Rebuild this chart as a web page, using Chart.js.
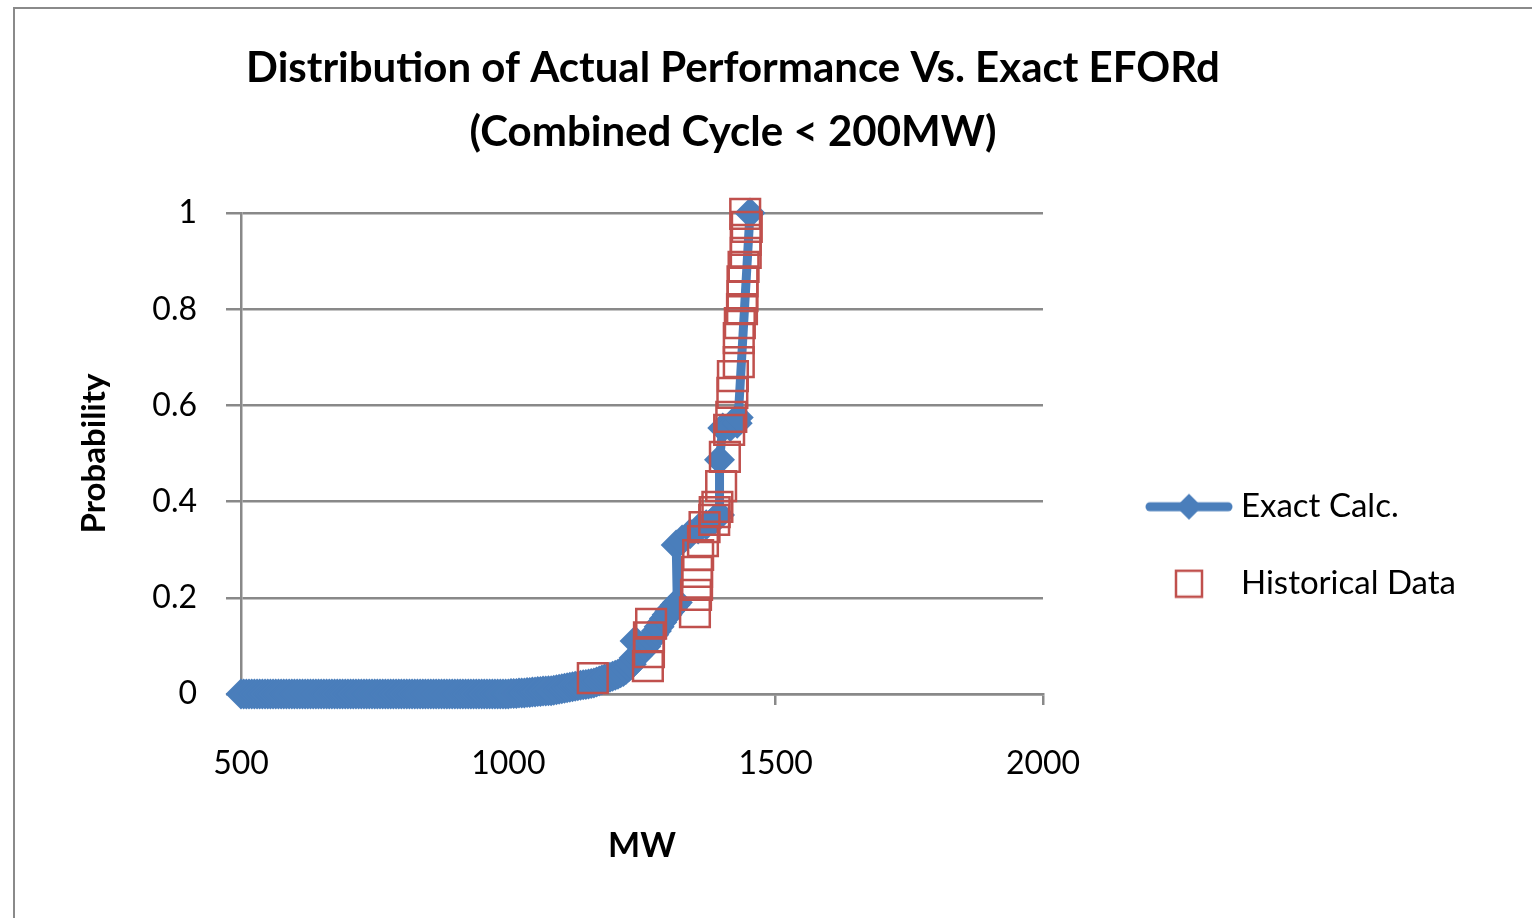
<!DOCTYPE html>
<html>
<head>
<meta charset="utf-8">
<script src="https://cdn.jsdelivr.net/npm/chart.js@4.4.1/dist/chart.umd.min.js"></script>
<style>
  html, body { margin: 0; padding: 0; background: #fff; overflow: hidden; }
  #wrap { position: relative; width: 1532px; height: 918px; }
  #frame { position: absolute; left: 13px; top: 7px; width: 1540px; height: 940px; border: 2px solid #8a8a8a; box-sizing: border-box; pointer-events: none; }
  canvas { position: absolute; left: 0; top: 0; }
</style>
</head>
<body>
<div id="wrap">
  <canvas id="c" width="1532" height="918"></canvas>
  <div id="frame"></div>
</div>
<script>
const titleLines = ['Distribution of Actual Performance Vs. Exact EFORd', '(Combined Cycle < 200MW)'];
const xAxisTitle = 'MW';
const yAxisTitle = 'Probability';
const seriesNames = ['Exact Calc.', 'Historical Data'];
const xTicks = [500, 1000, 1500, 2000];
const yTicks = [0, 0.2, 0.4, 0.6, 0.8, 1];

const exactMW = [
  500,505,510,515,520,525,530,535,540,545,550,555,560,565,570,575,580,585,590,595,
  600,605,610,615,620,625,630,635,640,645,650,655,660,665,670,675,680,685,690,695,
  700,705,710,715,720,725,730,735,740,745,750,755,760,765,770,775,780,785,790,795,
  800,805,810,815,820,825,830,835,840,845,850,855,860,865,870,875,880,885,890,895,
  900,905,910,915,920,925,930,935,940,945,950,955,960,965,970,975,980,985,990,995,
  1000,1005,1010,1015,1020,1025,1030,1035,1040,1045,1050,1055,1060,1065,1070,1075,
  1080,1085,1090,1095,1100,1105,1110,1115,1120,1125,1130,1135,1140,1145,1150,1155,
  1160,1165,1170,1175,1180,1185,1190,1195,1200,1205,1210,1215,1220,1225,1230,1235,
  1237,1242,1247,1252,1257,1262,1267,1272,1277,1282,1287,1292,1297,1302,1307,1312,
  1316,1314,1325,1340,1355,1370,1385,1395,1395,1401,1415,1428,1430,1452
];
const exactProb = [
  0,0,0,0,0,0,0,0,0,0,0,0,0,0,0,0,0,0,0,0,
  0,0,0,0,0,0,0,0,0,0,0,0,0,0,0,0,0,0,0,0,
  0,0,0,0,0,0,0,0,0,0,0,0,0,0,0,0,0,0,0,0,
  0,0,0,0,0,0,0,0,0,0,0,0,0,0,0,0,0,0,0,0,
  0,0,0,0,0,0,0,0,0,0,0,0,0,0,0,0,0,0,0,0,
  0,0.001,0.001,0.001,0.002,0.002,0.002,0.003,0.003,0.004,0.004,0.005,0.005,0.006,0.006,0.007,
  0.007,0.008,0.009,0.010,0.011,0.012,0.013,0.014,0.015,0.016,0.017,0.018,0.019,0.020,0.021,0.022,
  0.023,0.025,0.027,0.029,0.031,0.033,0.035,0.037,0.039,0.041,0.044,0.047,0.051,0.056,0.062,0.075,
  0.110,0.080,0.085,0.092,0.099,0.107,0.115,0.123,0.131,0.140,0.149,0.157,0.165,0.172,0.179,0.185,
  0.190,0.310,0.320,0.333,0.343,0.352,0.362,0.372,0.487,0.553,0.556,0.563,0.575,1.000
];

const histMW = [1158,1261,1263,1263,1267,1349,1351,1353,1353,1355,1364,1367,1385,1386,1391,1398,
  1405,1413,1417,1419,1420,1431,1431,1433,1437,1438,1438,1440,1444,1444,1446,1443];
const histProb = [0.033,0.058,0.087,0.118,0.146,0.170,0.206,0.227,0.254,0.289,0.318,0.347,0.362,0.378,0.389,0.432,
  0.493,0.549,0.576,0.626,0.661,0.690,0.740,0.771,0.800,0.827,0.858,0.888,0.917,0.944,0.971,0.998];

const BLUE = '#4a7ebb';
const RED = '#c0504d';
const GRID = '#898989';

// legend symbol images
function makeLineMarkerImg() {
  const cv = document.createElement('canvas');
  cv.width = 90; cv.height = 32;
  const g = cv.getContext('2d');
  g.strokeStyle = BLUE; g.lineWidth = 9; g.lineCap = 'round';
  g.beginPath(); g.moveTo(6, 16); g.lineTo(84, 16); g.stroke();
  g.fillStyle = BLUE;
  g.beginPath(); g.moveTo(45 - 13, 16); g.lineTo(45, 3); g.lineTo(45 + 13, 16); g.lineTo(45, 29); g.closePath(); g.fill();
  return cv;
}
function makeSquareImg() {
  const cv = document.createElement('canvas');
  cv.width = 30; cv.height = 30;
  const g = cv.getContext('2d');
  g.strokeStyle = RED; g.lineWidth = 2.5;
  g.strokeRect(2, 2, 26, 26);
  return cv;
}
const legendImgs = [makeLineMarkerImg(), makeSquareImg()];

Chart.defaults.font.family = 'Lato, "Open Sans", sans-serif';
Chart.defaults.color = '#000';

const PAD_RIGHT = 66;
const RIGHT_TOTAL = 1532 - PAD_RIGHT - 1043;

new Chart(document.getElementById('c'), {
  type: 'scatter',
  data: {
    datasets: [
      {
        label: seriesNames[0],
        data: exactMW.map((x, i) => ({x: x, y: exactProb[i]})),
        showLine: true,
        borderColor: BLUE,
        borderWidth: 9,
        borderJoinStyle: 'round',
        borderCapStyle: 'round',
        pointStyle: 'rectRot',
        pointRadius: 15.5,
        pointBackgroundColor: BLUE,
        pointBorderWidth: 0,
        clip: false,
        order: 1
      },
      {
        label: seriesNames[1],
        data: histMW.map((x, i) => ({x: x, y: histProb[i]})),
        showLine: false,
        pointStyle: 'rect',
        pointRadius: 21,
        pointBorderColor: RED,
        pointBorderWidth: 2.5,
        pointBackgroundColor: 'rgba(0,0,0,0)',
        clip: false,
        order: 0
      }
    ]
  },
  options: {
    responsive: false,
    animation: false,
    events: [],
    layout: { padding: { left: 0, right: PAD_RIGHT, top: 0, bottom: 0 } },
    plugins: {
      tooltip: { enabled: false },
      title: {
        display: true,
        text: titleLines,
        color: '#000',
        font: { size: 42, weight: 'bold', lineHeight: 64 / 42 },
        padding: { top: 36, bottom: 49 }
      },
      legend: {
        position: 'right',
        align: 'center',
        maxWidth: 600,
        title: { display: true, text: ' ', font: { size: 12 }, padding: { top: 79, bottom: 79 } },
        labels: {
          color: '#000',
          font: { size: 33 },
          padding: 44,
          usePointStyle: true,
          pointStyleWidth: 71,
          generateLabels: function (chart) {
            return seriesNames.map((name, i) => ({
              text: name,
              datasetIndex: i,
              hidden: false,
              pointStyle: legendImgs[i],
              fillStyle: 'rgba(0,0,0,0)',
              strokeStyle: 'rgba(0,0,0,0)',
              lineWidth: 0,
              fontColor: '#000'
            }));
          }
        }
      }
    },
    scales: {
      x: {
        type: 'linear',
        position: 'bottom',
        min: xTicks[0],
        max: xTicks[xTicks.length - 1],
        afterBuildTicks: (s) => { s.ticks = xTicks.map(v => ({value: v})); },
        ticks: { font: { size: 32 }, padding: 39, maxRotation: 0, color: '#000', callback: (v) => String(v) },
        grid: { drawOnChartArea: false, drawTicks: true, tickLength: 11, color: GRID, lineWidth: 2.5 },
        border: { display: true, color: GRID, width: 2.5 },
        title: { display: true, text: xAxisTitle, font: { size: 34, weight: 'bold' }, padding: { top: 0, bottom: 52 }, color: '#000' },
        afterFit: (s) => { s.height = 918 - 694; }
      },
      y: {
        type: 'linear',
        position: 'left',
        min: yTicks[0],
        max: yTicks[yTicks.length - 1],
        afterBuildTicks: (s) => { s.ticks = yTicks.map(v => ({value: v})); },
        ticks: { font: { size: 32 }, padding: 29, color: '#000', callback: (v) => String(v) },
        grid: { drawOnChartArea: true, drawTicks: true, tickLength: 15, color: GRID, lineWidth: 2.5 },
        border: { display: true, color: GRID, width: 2.5 },
        title: { display: true, text: yAxisTitle, font: { size: 33, weight: 'bold' }, padding: { top: 75, bottom: 0 }, color: '#000' },
        afterFit: (s) => { s.width = 241; }
      },
      spacer: {
        type: 'linear',
        position: 'right',
        display: true,
        grid: { display: false, drawTicks: false },
        border: { display: false },
        ticks: { display: false },
        afterFit: (s) => {
          const lw = (s.chart.legend && s.chart.legend.width) ? s.chart.legend.width : 350;
          s.width = Math.max(0, RIGHT_TOTAL - lw);
        }
      }
    }
  }
});
</script>
</body>
</html>
